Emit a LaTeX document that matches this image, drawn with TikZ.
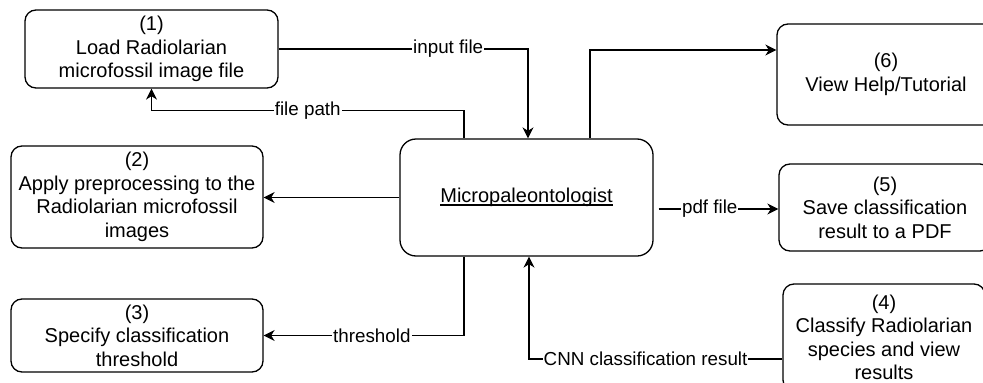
\documentclass[tikz,border=0pt]{standalone}
\usepackage{fontspec}
\setmainfont{Liberation Sans}
\usetikzlibrary{arrows.meta}

\newlength\ulwd
\newcommand\undertext[1]{\settowidth\ulwd{#1}\rlap{\rule[-3pt]{\ulwd}{1.2pt}}#1}

\begin{document}
\begin{tikzpicture}[
  x=1pt, y=-1pt,
  box/.style={draw, line width=1.3pt, rounded corners=11pt, align=center, inner sep=0pt,
              font=\fontsize{20}{23.5}\selectfont},
  mainbox/.style={box, rounded corners=16pt},
  lbl/.style={fill=white, inner sep=1pt, font=\fontsize{18.8}{20}\selectfont},
  ar/.style={line width=1.3pt, -{Stealth[length=11pt, width=11pt, inset=3.5pt]}}
]
\clip (0,0) rectangle (983,383);
\node[box, minimum width=253pt, minimum height=78pt] (load) at (151.5,49)
  {(1)\\Load Radiolarian\\microfossil image file};
\node[box, minimum width=252pt, minimum height=102pt] (prep) at (137,197)
  {(2)\\Apply preprocessing to the\\Radiolarian microfossil\\images};
\node[box, minimum width=252pt, minimum height=73pt] (thr) at (137,335.5)
  {(3)\\Specify classification\\threshold};
\node[mainbox, minimum width=253pt, minimum height=117pt] (mp) at (526.5,197.5)
  {\undertext{Micropaleontologist}};
\node[box, minimum width=218pt, minimum height=101pt] (help) at (886,74.5)
  {(6)\\View Help/Tutorial};
\node[box, minimum width=212pt, minimum height=87pt] (pdf) at (885,207.5)
  {(5)\\Save classification\\result to a PDF};
\node[box, minimum width=202pt, minimum height=107pt] (cls) at (884,337.5)
  {(4)\\Classify Radiolarian\\species and view\\results};

\draw[ar] (load.east) -| node[lbl, pos=0.34]{input file} ([xshift=1.5pt]mp.north);
\draw[ar] ([xshift=-62.5pt]mp.north) -- ++(0,-28) -| node[lbl, pos=0.25]{file path} (load.south);
\draw[ar] ([xshift=63.5pt]mp.north) |- ([yshift=24.5pt]help.west);
\draw[ar] (mp.west) -- (mp.west -| prep.east);
\draw[ar, shorten <=5pt] ([yshift=-1.5pt]pdf.west -| mp.east) -- node[lbl, pos=0.45]{pdf file} ([yshift=-1.5pt]pdf.west);
\draw[ar] ([xshift=-62.5pt]mp.south) |- node[lbl, pos=0.73]{threshold} (thr.east);
\draw[ar] ([yshift=-21.5pt]cls.west) -| node[lbl, pos=0.27]{CNN classification result} ([xshift=2.5pt]mp.south);
\end{tikzpicture}
\end{document}
